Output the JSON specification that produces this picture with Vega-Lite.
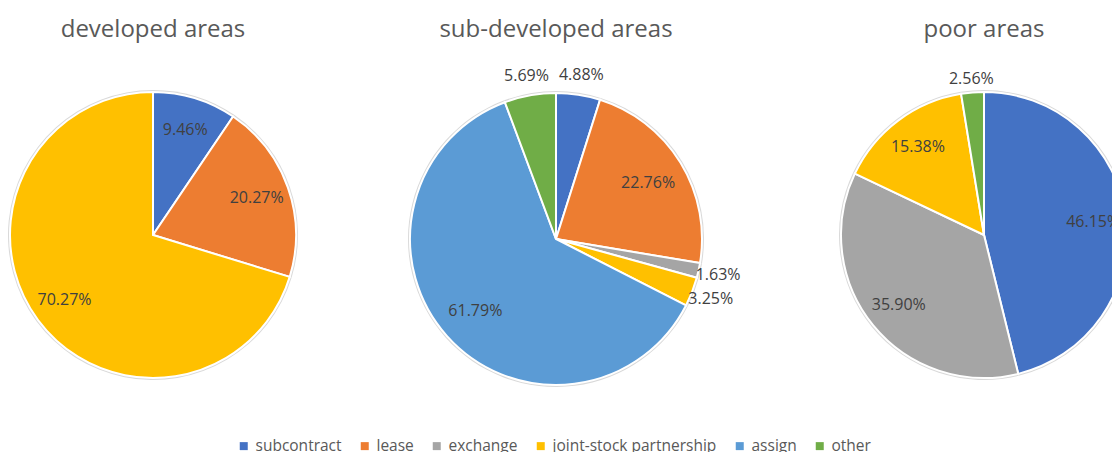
{
  "$schema": "https://vega.github.io/schema/vega-lite/v6.json",
  "padding": {"left": 0, "top": 18, "right": 0, "bottom": 0},
  "spacing": 0,
  "background": "white",
  "datasets": {
    "shares": [
      {"area": "developed", "category": "subcontract", "idx": 1, "value": 0.0946},
      {"area": "developed", "category": "lease", "idx": 2, "value": 0.2027},
      {"area": "developed", "category": "joint-stock partnership", "idx": 4, "value": 0.7027},
      {"area": "sub-developed", "category": "subcontract", "idx": 1, "value": 0.0488},
      {"area": "sub-developed", "category": "lease", "idx": 2, "value": 0.2276},
      {"area": "sub-developed", "category": "exchange", "idx": 3, "value": 0.0163},
      {"area": "sub-developed", "category": "joint-stock partnership", "idx": 4, "value": 0.0325},
      {"area": "sub-developed", "category": "assign", "idx": 5, "value": 0.6179},
      {"area": "sub-developed", "category": "other", "idx": 6, "value": 0.0569},
      {"area": "poor", "category": "subcontract", "idx": 1, "value": 0.4615},
      {"area": "poor", "category": "exchange", "idx": 3, "value": 0.3590},
      {"area": "poor", "category": "joint-stock partnership", "idx": 4, "value": 0.1538},
      {"area": "poor", "category": "other", "idx": 6, "value": 0.0256}
    ]
  },
  "data": {"name": "shares"},
  "config": {
    "view": {"stroke": null},
    "title": {"font": "Open Sans", "fontSize": 24, "fontWeight": "normal", "color": "#595959", "offset": 0},
    "text": {"font": "Open Sans", "fontSize": 16, "color": "#404040"},
    "legend": {
      "orient": "none", "legendX": 236, "legendY": 392, "direction": "horizontal",
      "symbolType": "square", "symbolSize": 64, "symbolStrokeWidth": 0,
      "labelFont": "Open Sans", "labelFontSize": 15.5, "labelColor": "#595959",
      "labelOffset": 4, "labelLimit": 400, "columnPadding": 15, "title": null
    }
  },
  "hconcat": [
    {
      "title": "developed areas",
      "width": 306, "height": 378,
      "transform": [{"filter": "datum.area === 'developed'"}],
      "encoding": {
        "theta": {"field": "value", "type": "quantitative", "stack": true},
        "order": {"field": "idx", "type": "quantitative", "sort": "ascending"}
      },
      "layer": [
        {"mark": {"type": "arc", "outerRadius": 145, "fill": "#d9d9d9", "strokeWidth": 0}},
        {"mark": {"type": "arc", "outerRadius": 143, "stroke": "white", "strokeWidth": 2},
         "encoding": {"color": {"field": "category", "type": "nominal",
           "scale": {"domain": ["subcontract", "lease", "exchange", "joint-stock partnership", "assign", "other"],
                     "range": ["#4472C4", "#ED7D31", "#A5A5A5", "#FFC000", "#5B9BD5", "#70AD47"]},
           "title": null}}},
        {"mark": {"type": "text", "radius": 110},
         "encoding": {"text": {"field": "value", "type": "quantitative", "format": ".2%",
           "condition": {"test": "datum.value < 0.06", "value": ""}}}},
        {"mark": {"type": "text", "radius": 163},
         "encoding": {"text": {"field": "value", "type": "quantitative", "format": ".2%",
           "condition": {"test": "datum.value >= 0.06", "value": ""}}}}
      ]
    },
    {
      "title": "sub-developed areas",
      "width": 498, "height": 386,
      "transform": [{"filter": "datum.area === 'sub-developed'"}],
      "encoding": {
        "theta": {"field": "value", "type": "quantitative", "stack": true},
        "order": {"field": "idx", "type": "quantitative", "sort": "ascending"}
      },
      "layer": [
        {"mark": {"type": "arc", "outerRadius": 148, "fill": "#d9d9d9", "strokeWidth": 0}},
        {"mark": {"type": "arc", "outerRadius": 146, "stroke": "white", "strokeWidth": 2},
         "encoding": {"color": {"field": "category", "type": "nominal", "title": null}}},
        {"mark": {"type": "text", "radius": 108},
         "encoding": {"text": {"field": "value", "type": "quantitative", "format": ".2%",
           "condition": {"test": "datum.value < 0.06", "value": ""}}}},
        {"mark": {"type": "text", "radius": 166},
         "encoding": {"text": {"field": "value", "type": "quantitative", "format": ".2%",
           "condition": {"test": "datum.value >= 0.06", "value": ""}}}}
      ]
    },
    {
      "title": "poor areas",
      "width": 358, "height": 378,
      "transform": [{"filter": "datum.area === 'poor'"}],
      "encoding": {
        "theta": {"field": "value", "type": "quantitative", "stack": true},
        "order": {"field": "idx", "type": "quantitative", "sort": "ascending"}
      },
      "layer": [
        {"mark": {"type": "arc", "outerRadius": 145, "fill": "#d9d9d9", "strokeWidth": 0}},
        {"mark": {"type": "arc", "outerRadius": 143, "stroke": "white", "strokeWidth": 2},
         "encoding": {"color": {"field": "category", "type": "nominal", "title": null}}},
        {"mark": {"type": "text", "radius": 110},
         "encoding": {"text": {"field": "value", "type": "quantitative", "format": ".2%",
           "condition": {"test": "datum.value < 0.06", "value": ""}}}},
        {"mark": {"type": "text", "radius": 157},
         "encoding": {"text": {"field": "value", "type": "quantitative", "format": ".2%",
           "condition": {"test": "datum.value >= 0.06", "value": ""}}}}
      ]
    }
  ]
}
